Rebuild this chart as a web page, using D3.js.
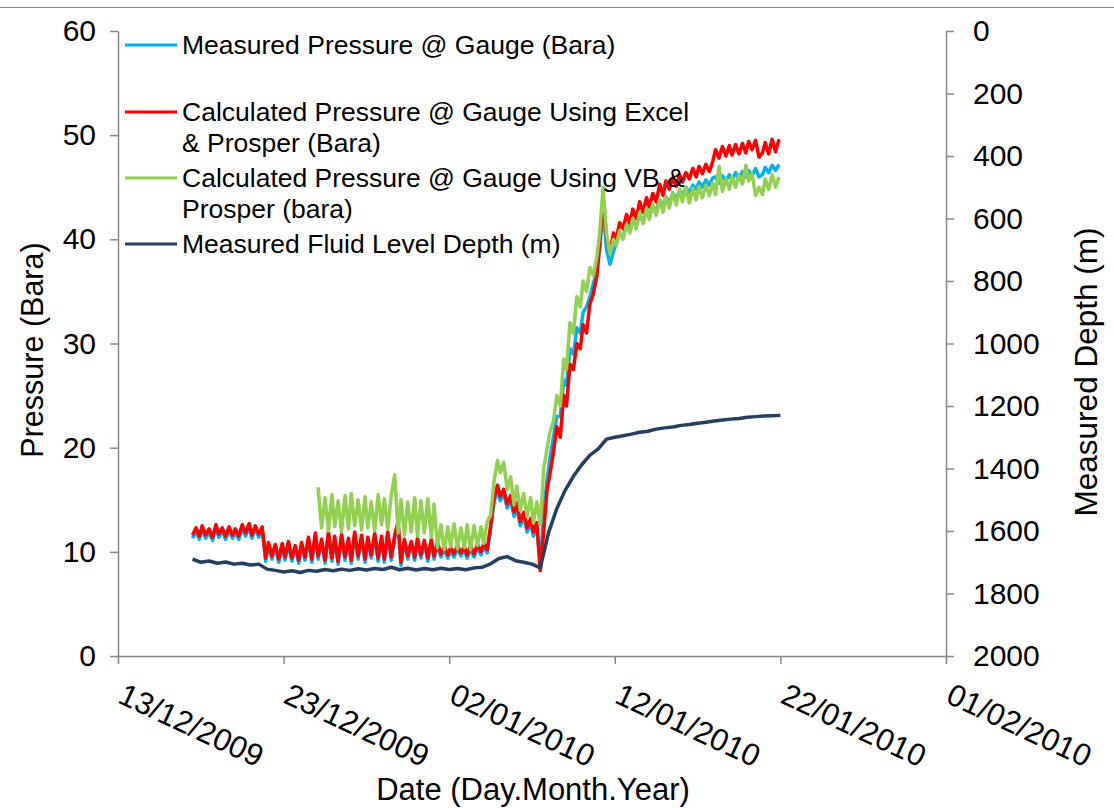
<!DOCTYPE html>
<html>
<head>
<meta charset="utf-8">
<script src="https://cdn.jsdelivr.net/npm/d3@7"></script>
<style>
  body { margin: 0; background: #fff; }
  svg { display: block; font-family: "Liberation Sans", Arial, sans-serif; }
</style>
</head>
<body>
<div id="chart"></div>
<script>
// Pressure / fluid level chart, Dec 2009 - Jan 2010
// Samples are taken at a fixed step (days after 13/12/2009).

const tickDates = ["13/12/2009", "23/12/2009", "02/01/2010", "12/01/2010", "22/01/2010", "01/02/2010"];
const pressureTicks = [0, 10, 20, 30, 40, 50, 60];
const depthTicks = [0, 200, 400, 600, 800, 1000, 1200, 1400, 1600, 1800, 2000];

const seriesNames = [
    "Measured Pressure @ Gauge (Bara)",
    "Calculated Pressure @ Gauge Using Excel & Prosper (Bara)",
    "Calculated Pressure @ Gauge Using VB & Prosper (bara)",
    "Measured Fluid Level Depth (m)"
];

// pressure series: first sample day 4.5, one sample every 0.2 day
const pressureStart = 4.5, pressureStep = 0.2;
const measuredPressure = [
    11.3, 12.0, 11.2, 12.2, 11.3, 11.9, 11.1, 12.3, 11.4, 12.0, 11.2, 12.1, 11.3, 11.9, 11.2, 12.3, 11.5, 12.4, 11.3, 12.2, 11.4, 12.1,
    9.1, 10.6, 9.3, 10.4, 9.0, 10.5, 9.2, 10.7, 9.1, 10.3, 8.9, 10.6, 9.2,
    11.1, 9.0, 11.5, 9.3, 10.9, 8.9, 11.6, 9.1, 11.2, 8.8, 11.4, 9.2, 11.0, 8.9, 11.6, 9.3, 11.3, 9.0, 11.1, 9.4, 11.5, 9.1, 11.2, 9.0, 11.6, 9.2, 11.3,
    12.6, 8.7,
    10.9, 9.3, 10.7, 9.2, 11.0, 9.4, 10.8, 9.1, 10.9, 9.3, 10.6,
    9.5, 10.2, 9.4, 10.1, 9.5, 10.3, 9.6, 10.2, 9.4, 10.3, 9.5, 10.4, 9.7, 10.5, 9.9,
    12.1, 14.8, 15.9,
    14.9, 15.6, 14.2, 15.0, 13.4, 14.3, 12.5, 13.4, 11.9, 12.8, 11.5, 12.4,
    8.6,
    14.0, 17.0, 19.0, 21.0, 23.0, 23.0, 26.5, 26.0, 29.5, 29.0, 31.5, 31.0, 33.0, 33.5, 34.5, 35.8, 37.0, 39.0, 43.0,
    39.0, 37.6, 38.8, 39.6, 40.6, 40.2, 41.4, 40.8, 41.8, 41.3,
    42.4, 41.7, 42.8, 42.2, 43.2, 42.7, 43.8, 43.1, 44.1, 43.5,
    44.4, 43.9, 44.7, 44.2, 45.0, 44.5, 45.2, 44.8, 45.5, 45.0,
    45.7, 45.2, 45.9, 46.0, 45.4, 46.1, 45.6, 46.2, 45.7, 46.4,
    45.8, 46.5, 46.0, 46.6, 46.1, 46.8, 46.0, 46.2, 46.9, 46.4,
    47.1, 46.6, 47.2
];
const excelPressure = [
    11.6, 12.3, 11.5, 12.5, 11.6, 12.2, 11.4, 12.6, 11.7, 12.3, 11.5, 12.4, 11.6, 12.2, 11.5, 12.6, 11.8, 12.7, 11.6, 12.5, 11.7, 12.4,
    9.4, 10.9, 9.6, 10.7, 9.3, 10.8, 9.5, 11.0, 9.4, 10.6, 9.2, 10.9, 9.5,
    11.4, 9.3, 11.8, 9.6, 11.2, 9.2, 11.9, 9.4, 11.5, 9.1, 11.7, 9.5, 11.3, 9.2, 11.9, 9.6, 11.6, 9.3, 11.4, 9.7, 11.8, 9.4, 11.5, 9.3, 11.9, 9.5, 11.6,
    12.9, 9.0,
    11.2, 9.6, 11.0, 9.5, 11.3, 9.7, 11.1, 9.4, 11.2, 9.6, 10.9,
    9.8, 10.5, 9.7, 10.4, 9.8, 10.6, 9.9, 10.5, 9.7, 10.6, 9.8, 10.7, 10.0, 10.8, 10.2,
    12.5, 15.2, 16.4,
    15.3, 16.0, 14.6, 15.4, 13.8, 14.7, 12.9, 13.8, 12.3, 13.2, 11.9, 12.8,
    8.2,
    12.0, 16.0, 17.5, 19.5, 22.0, 21.0, 25.0, 24.0, 28.0, 27.5, 30.0, 29.5, 31.8, 31.0, 33.8, 34.8, 36.5, 39.5, 44.0,
    40.2, 38.8, 40.6, 40.0, 41.6, 41.0, 42.4, 41.5, 42.9, 42.0,
    43.6, 42.6, 44.0, 43.1, 44.4, 43.6, 45.3, 44.2, 45.6, 44.8,
    45.9, 45.1, 46.2, 45.5, 46.4, 45.8, 46.8, 46.0, 47.0, 46.3,
    47.2, 46.5, 47.5, 48.6, 47.8, 48.9, 48.0, 49.0, 48.1, 49.1,
    48.2, 49.2, 48.3, 49.4, 48.6, 49.5, 47.9, 48.3, 49.3, 48.2,
    49.6, 48.4, 49.6
];

// VB series starts later: first sample day 12.1, every 0.2 day
const vbStart = 12.1, vbStep = 0.2;
const vbPressure = [
    16.2, 12.3, 15.2, 12.0, 15.5, 12.4, 14.9, 11.9, 15.4, 12.2, 15.6, 12.5, 15.0, 12.1, 15.3, 12.3, 14.8, 12.0, 15.5, 12.6, 15.1, 12.2, 15.4,
    17.4, 11.8,
    15.0, 11.6, 14.8, 11.9, 15.2, 11.5, 14.9, 11.8, 15.1, 11.4, 14.6,
    10.4, 12.6, 10.2, 12.4, 10.5, 12.7, 10.3, 12.3, 10.4, 12.6, 10.2, 12.5, 10.6, 12.4, 10.8, 12.9,
    13.5, 16.8, 18.8,
    17.6, 18.6, 16.0, 17.2, 14.5, 16.3, 14.0, 15.6, 13.4, 15.2, 12.8, 14.8,
    12.6,
    18.0, 20.0, 21.5, 22.5, 25.0, 24.0, 28.5, 27.5, 32.0, 31.0, 34.5, 33.5, 36.0, 35.0, 37.3, 36.5, 38.3, 40.5, 45.0,
    40.5, 38.6, 40.0, 39.4, 40.8, 40.0, 41.4, 40.6, 42.0, 41.0,
    42.6, 41.5, 43.0, 41.9, 43.4, 42.3, 43.8, 42.6, 44.1, 43.0,
    44.5, 43.3, 44.8, 43.6, 45.0, 43.5, 44.9, 43.8, 45.1, 44.0,
    45.2, 44.2, 45.4, 44.3, 47.0, 44.6, 45.8, 44.8, 46.0, 45.0,
    46.2, 45.3, 47.1, 45.6, 46.3, 44.2, 45.0, 44.3, 45.8, 44.8,
    46.2, 45.0, 46.0
];

// fluid level depth (m): first sample day 4.5, every 0.5 day
const depthStart = 4.5, depthStep = 0.5;
const fluidDepth = [
    1690, 1700, 1696, 1703, 1699, 1706, 1703, 1709, 1706, 1722,
    1726, 1731, 1727, 1733, 1726, 1729, 1723, 1727, 1722, 1726,
    1721, 1725, 1720, 1723, 1716, 1724, 1719, 1725, 1720, 1724,
    1719, 1723, 1720, 1724, 1718, 1716, 1705, 1688, 1682, 1695,
    1700, 1706, 1718, 1605, 1528, 1470, 1425, 1388, 1357, 1337,
    1306, 1300, 1295, 1290, 1284, 1281, 1274, 1270, 1267, 1262,
    1259, 1255, 1252, 1248, 1245, 1242, 1240, 1236, 1234, 1232,
    1231, 1230
];

const colors = ["#00b0f0", "#ff0000", "#92d050", "#243f60"];
const axisColor = "#868686";

const W = 1114, H = 808;
const plot = {left: 118, right: 946, top: 31, bottom: 656};

const svg = d3.select("#chart").append("svg")
    .attr("width", W)
    .attr("height", H);

svg.append("line")
    .attr("x1", 0).attr("x2", W)
    .attr("y1", 7.5).attr("y2", 7.5)
    .attr("stroke", axisColor);

const parseDate = d3.utcParse("%d/%m/%Y");
const day0 = parseDate(tickDates[0]);
const toDate = d => d3.utcHour.offset(day0, Math.round(d * 24));

const x = d3.scaleUtc()
    .domain([day0, parseDate(tickDates[tickDates.length - 1])])
    .range([plot.left, plot.right]);
const yP = d3.scaleLinear().domain([0, 60]).range([plot.bottom, plot.top]);
const yD = d3.scaleLinear().domain([0, 2000]).range([plot.top, plot.bottom]);

const toPoints = (values, start, step) => values.map((v, i) => ({date: toDate(start + step * i), v}));

const pressureLine = d3.line().x(d => x(d.date)).y(d => yP(d.v));
const depthLine = d3.line().x(d => x(d.date)).y(d => yD(d.v));

const lines = svg.append("g");
[
    [toPoints(measuredPressure, pressureStart, pressureStep), pressureLine, colors[0]],
    [toPoints(excelPressure, pressureStart, pressureStep), pressureLine, colors[1]],
    [toPoints(vbPressure, vbStart, vbStep), pressureLine, colors[2]],
    [toPoints(fluidDepth, depthStart, depthStep), depthLine, colors[3]]
].forEach(([pts, gen, col]) => {
    lines.append("path")
        .datum(pts)
        .attr("fill", "none")
        .attr("stroke", col)
        .attr("stroke-width", 3.5)
        .attr("stroke-linejoin", "round")
        .attr("d", gen);
});

// axes
const styleAxis = (g, size) => {
    g.select(".domain").attr("stroke", axisColor).attr("stroke-width", 1.5);
    g.selectAll(".tick line").attr("stroke", axisColor).attr("stroke-width", 1.5);
    g.selectAll(".tick text")
        .attr("fill", "#000")
        .style("font-family", "'Liberation Sans', Arial, sans-serif")
        .style("font-size", size + "px");
};

svg.append("g")
    .attr("transform", `translate(${plot.left},0)`)
    .call(d3.axisLeft(yP).tickValues(pressureTicks).tickSizeInner(8).tickSizeOuter(0).tickPadding(14))
    .call(g => styleAxis(g, 30));

svg.append("g")
    .attr("transform", `translate(${plot.right},0)`)
    .call(d3.axisRight(yD).tickValues(depthTicks).tickFormat(d3.format("d"))
        .tickSizeInner(8).tickSizeOuter(0).tickPadding(19))
    .call(g => styleAxis(g, 30));

svg.append("g")
    .attr("transform", `translate(0,${plot.bottom})`)
    .call(d3.axisBottom(x).tickValues(tickDates.map(parseDate)).tickFormat(d3.utcFormat("%d/%m/%Y"))
        .tickSizeInner(8).tickSizeOuter(0))
    .call(g => styleAxis(g, 31))
    .call(g => g.selectAll(".tick text")
        .attr("x", 0).attr("y", 0).attr("dy", 0)
        .attr("text-anchor", "start")
        .attr("transform", "translate(-2,46) rotate(25)"));

// axis titles
svg.append("text")
    .attr("transform", "translate(43,350) rotate(-90)")
    .attr("text-anchor", "middle")
    .style("font-size", "30.5px")
    .text("Pressure (Bara)");
svg.append("text")
    .attr("transform", "translate(1097,372) rotate(-90)")
    .attr("text-anchor", "middle")
    .style("font-size", "31.5px")
    .text("Measured Depth (m)");
svg.append("text")
    .attr("x", 533).attr("y", 800)
    .attr("text-anchor", "middle")
    .style("font-size", "31px")
    .text("Date (Day.Month.Year)");

// legend
const legendRows = [
    {y: 45, lines: [seriesNames[0]]},
    {y: 112, lines: ["Calculated Pressure @ Gauge Using Excel", "& Prosper (Bara)"]},
    {y: 178, lines: ["Calculated Pressure @ Gauge Using VB &", "Prosper (bara)"]},
    {y: 244, lines: [seriesNames[3]]}
];
const legend = svg.append("g");
legendRows.forEach((row, i) => {
    legend.append("line")
        .attr("x1", 125).attr("x2", 177)
        .attr("y1", row.y).attr("y2", row.y)
        .attr("stroke", colors[i])
        .attr("stroke-width", 3);
    row.lines.forEach((t, k) => {
        legend.append("text")
            .attr("x", 182)
            .attr("y", row.y + k * 31)
            .attr("dy", "0.35em")
            .style("font-size", "26.5px")
            .text(t);
    });
});
</script>
</body>
</html>
